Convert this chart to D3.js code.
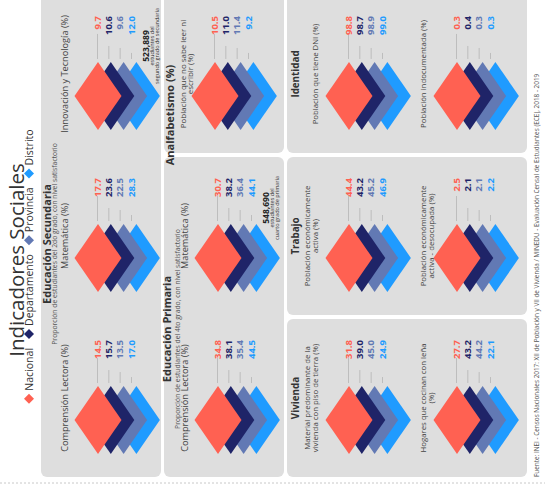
<!DOCTYPE html>
<html>
<head>
<meta charset="utf-8">
<script src="https://cdn.jsdelivr.net/npm/d3@7"></script>
<style>
  body { margin: 0; background: #fff; }
  text { font-family: "Open Sans", sans-serif; }
</style>
</head>
<body>
<div id="chart"></div>
<script>
// Series (legend) and their colours
var series = ["Nacional", "Departamento", "Provincia", "Distrito"];
var seriesColors = ["#ff6152", "#1f2468", "#6279b4", "#1f9bff"];

// Educación Secundaria
var secundariaTitles = [["Comprensión Lectora (%)"], ["Matemática (%)"], ["Innovación y Tecnología (%)"]];
var secundariaValues = [[14.5, 15.7, 13.5, 17.0], [17.7, 23.6, 22.5, 28.3], [9.7, 10.6, 9.6, 12.0]];
var secundariaNote = ["523,889", "estudiantes del", "segundo grado de secundaria"];

// Educación Primaria
var primariaTitles = [["Comprensión Lectora (%)"], ["Matemática (%)"]];
var primariaValues = [[34.8, 38.1, 35.4, 44.5], [30.7, 38.2, 36.4, 44.1]];
var primariaNote = ["548,690", "estudiantes del", "cuarto grado de primaria"];

// Analfabetismo
var analfabetismoTitles = [["Población que no sabe leer ni", "escribir (%)"]];
var analfabetismoValues = [[10.5, 11.0, 11.4, 9.2]];

// Vivienda, Trabajo, Identidad
var viviendaTitles = [["Material predominante de la", "vivienda con piso de tierra (%)"], ["Hogares que cocinan con leña", "(%)"]];
var viviendaValues = [[31.8, 39.0, 45.0, 24.9], [27.7, 43.2, 44.2, 22.1]];
var trabajoTitles = [["Población económicamente", "activa (%)"], ["Población económicamente", "activa - desocupada (%)"]];
var trabajoValues = [[44.4, 43.2, 45.2, 46.9], [2.5, 2.1, 2.1, 2.2]];
var identidadTitles = [["Población que tiene DNI (%)"], ["Población indocumentada (%)"]];
var identidadValues = [[98.8, 98.7, 98.9, 99.0], [0.3, 0.4, 0.3, 0.3]];

var fuente = "Fuente: INEI - Censos Nacionales 2017: XII de Población y VII de Vivienda / MINEDU - Evaluación Censal de Estudiantes (ECE), 2018 - 2019";

// The whole graphic is laid out upright and then turned a quarter turn
var svgWidth = 554;
var svgHeight = 485;

var svg = d3.select("#chart")
  .append("svg")
  .attr("width", svgWidth)
  .attr("height", svgHeight);

// inside g: x runs along the page height, y along the page width
var g = svg.append("g")
  .attr("transform", `translate(0, ${svgHeight}) rotate(-90)`);

// grid scales
var colScale = d3.scaleBand().domain([0, 1, 2]).range([8, 490]).paddingInner(0.025);
var colCenter = i => colScale(i) + colScale.bandwidth() / 2;
var rowScale = d3.scaleOrdinal().domain([0, 1, 2, 3]).range([98, 218, 349, 457]);
var diamondShift = d3.scalePoint().domain(series).range([0, 38.4]);
var labelShift = d3.scalePoint().domain(series).range([-0.5, 33.5]);
var leaderLen = d3.scaleOrdinal().domain(series).range([25, 13, 11, 6]);
var color = d3.scaleOrdinal().domain(series).range(seriesColors);

// panels
var panels = [
  {c0: 0, c1: 2, v0: 41, v1: 161},
  {c0: 0, c1: 1, v0: 164, v1: 284},
  {c0: 2, c1: 2, v0: 164, v1: 284},
  {c0: 0, c1: 0, v0: 287, v1: 527},
  {c0: 1, c1: 1, v0: 287, v1: 527},
  {c0: 2, c1: 2, v0: 287, v1: 527}
];
g.selectAll("rect.panel")
  .data(panels)
  .enter()
  .append("rect")
  .attr("class", "panel")
  .attr("x", d => colScale(d.c0))
  .attr("y", d => d.v0)
  .attr("width", d => colScale(d.c1) + colScale.bandwidth() - colScale(d.c0))
  .attr("height", d => d.v1 - d.v0)
  .attr("rx", 6)
  .attr("fill", "#dedede");

// dashed outer line and footer
g.append("line")
  .attr("x1", 2).attr("x2", 2)
  .attr("y1", 0).attr("y2", 545)
  .attr("stroke", "#c8c8c8")
  .attr("stroke-dasharray", "2,2");

g.append("text")
  .attr("x", 8)
  .attr("y", 539)
  .style("font-size", "6.4px")
  .style("fill", "#555")
  .text(fuente);

// title
g.append("text")
  .attr("x", 225)
  .attr("y", 23.5)
  .attr("text-anchor", "middle")
  .style("font-size", "20.5px")
  .style("fill", "#333")
  .text("Indicadores Sociales");

// legend
var legend = g.append("g").attr("class", "legend");
var lx = 0;
series.forEach(function(s, i) {
  var item = legend.append("g").attr("transform", `translate(${lx}, 29)`);
  item.append("path")
    .attr("d", "M0,-5L5,0L0,5L-5,0Z")
    .attr("fill", color(s));
  var t = item.append("text")
    .attr("x", 8)
    .attr("y", 3.5)
    .style("font-size", "10.5px")
    .style("fill", "#333")
    .text(s);
  lx += 8 + t.node().getComputedTextLength() + 14;
});
legend.attr("transform", `translate(${216 - (lx - 14) / 2 + 5}, 0)`);

// section headings
var headings = [
  {text: "Educación Secundaria", u: 241, v: 51, size: 11},
  {text: "Educación Primaria", u: 156, v: 171, size: 11},
  {text: "Analfabetismo (%)", u: 370, v: 174, size: 11},
  {text: "Vivienda", u: colCenter(0), v: 299, size: 9.8},
  {text: "Trabajo", u: colCenter(1), v: 299, size: 9.8},
  {text: "Identidad", u: colCenter(2), v: 299, size: 9.8}
];
g.selectAll("text.heading")
  .data(headings)
  .enter()
  .append("text")
  .attr("class", "heading")
  .attr("x", d => d.u)
  .attr("y", d => d.v)
  .attr("text-anchor", "middle")
  .style("font-size", d => d.size + "px")
  .style("font-weight", "bold")
  .style("fill", "#333")
  .text(d => d.text);

var subtitles = [
  {text: "Proporción de estudiantes del 2do grado, con nivel satisfactorio", u: 241, v: 56.5},
  {text: "Proporción de estudiantes del 4to grado, con nivel satisfactorio", u: 156, v: 179.5}
];
g.selectAll("text.subtitle")
  .data(subtitles)
  .enter()
  .append("text")
  .attr("class", "subtitle")
  .attr("x", d => d.u)
  .attr("y", d => d.v)
  .attr("text-anchor", "middle")
  .style("font-size", "6.8px")
  .style("fill", "#555")
  .text(d => d.text);

// build the list of small charts
var charts = [];
function addRow(titles, values, row, colStart, titleTop, dv, fs) {
  titles.forEach(function(t, i) {
    charts.push({title: t, values: values[i], col: colStart + i, row: row, titleTop: titleTop, dv: dv, fs: fs});
  });
}
addRow(secundariaTitles, secundariaValues, 0, 0, -30, 0, 9.2);
addRow(primariaTitles, primariaValues, 1, 0, -30, 0, 9.2);
addRow(analfabetismoTitles, analfabetismoValues, 1, 2, -29.5, -3, 7.9);
function addColumn(titles, values, col) {
  titles.forEach(function(t, i) {
    var top = (i === 0 && t.length === 2) ? -39 : -31;
    charts.push({title: t, values: values[i], col: col, row: 2 + i, titleTop: top, dv: 0, fs: 7.8});
  });
}
addColumn(viviendaTitles, viviendaValues, 0);
addColumn(trabajoTitles, trabajoValues, 1);
addColumn(identidadTitles, identidadValues, 2);

charts.forEach(function(c) {
  var uc = colCenter(c.col) - 22;
  var vc = rowScale(c.row) + c.dv;
  var cg = g.append("g").attr("transform", `translate(${uc}, ${vc})`);

  var pts = series.map((s, i) => ({s: s, v: c.values[i]}));

  // title lines
  cg.selectAll("text.ctitle")
    .data(c.title)
    .enter()
    .append("text")
    .attr("class", "ctitle")
    .attr("x", 22)
    .attr("y", (d, i) => c.titleTop + i * 7.7)
    .attr("text-anchor", "middle")
    .style("font-size", c.fs + "px")
    .style("fill", "#444")
    .text(d => d);

  // diamonds, back to front
  cg.selectAll("path.diamond")
    .data(pts.slice().reverse())
    .enter()
    .append("path")
    .attr("class", "diamond")
    .attr("d", "M-34,0L0,-23.5L34,0L0,23.5Z")
    .attr("transform", d => `translate(0, ${diamondShift(d.s)})`)
    .attr("fill", d => color(d.s));

  // leader lines
  cg.selectAll("line.leader")
    .data(pts)
    .enter()
    .append("line")
    .attr("class", "leader")
    .attr("x1", 37)
    .attr("x2", d => 37 + leaderLen(d.s))
    .attr("y1", d => labelShift(d.s))
    .attr("y2", d => labelShift(d.s))
    .attr("stroke", "#bdbdbd")
    .attr("stroke-width", 1);

  // value labels
  cg.selectAll("text.value")
    .data(pts)
    .enter()
    .append("text")
    .attr("class", "value")
    .attr("x", 80)
    .attr("y", d => labelShift(d.s))
    .attr("dy", "0.35em")
    .attr("text-anchor", "end")
    .style("font-size", "9.5px")
    .style("font-weight", "bold")
    .style("fill", d => color(d.s))
    .text(d => d.v.toFixed(1));
});

// student count notes
var notes = [
  {lines: secundariaNote, col: 2, row: 0},
  {lines: primariaNote, col: 1, row: 1}
];
notes.forEach(function(n) {
  var ng = g.append("g")
    .attr("transform", `translate(${colCenter(n.col) + 28}, ${rowScale(n.row)})`);
  ng.append("text")
    .attr("y", 50.5)
    .attr("text-anchor", "middle")
    .style("font-size", "8.5px")
    .style("font-weight", "bold")
    .style("fill", "#222")
    .text(n.lines[0]);
  ng.append("text")
    .attr("y", 56)
    .attr("text-anchor", "middle")
    .style("font-size", "5.5px")
    .style("fill", "#333")
    .text(n.lines[1]);
  ng.append("text")
    .attr("y", 61)
    .attr("text-anchor", "middle")
    .style("font-size", "5.5px")
    .style("fill", "#333")
    .text(n.lines[2]);
});
</script>
</body>
</html>
